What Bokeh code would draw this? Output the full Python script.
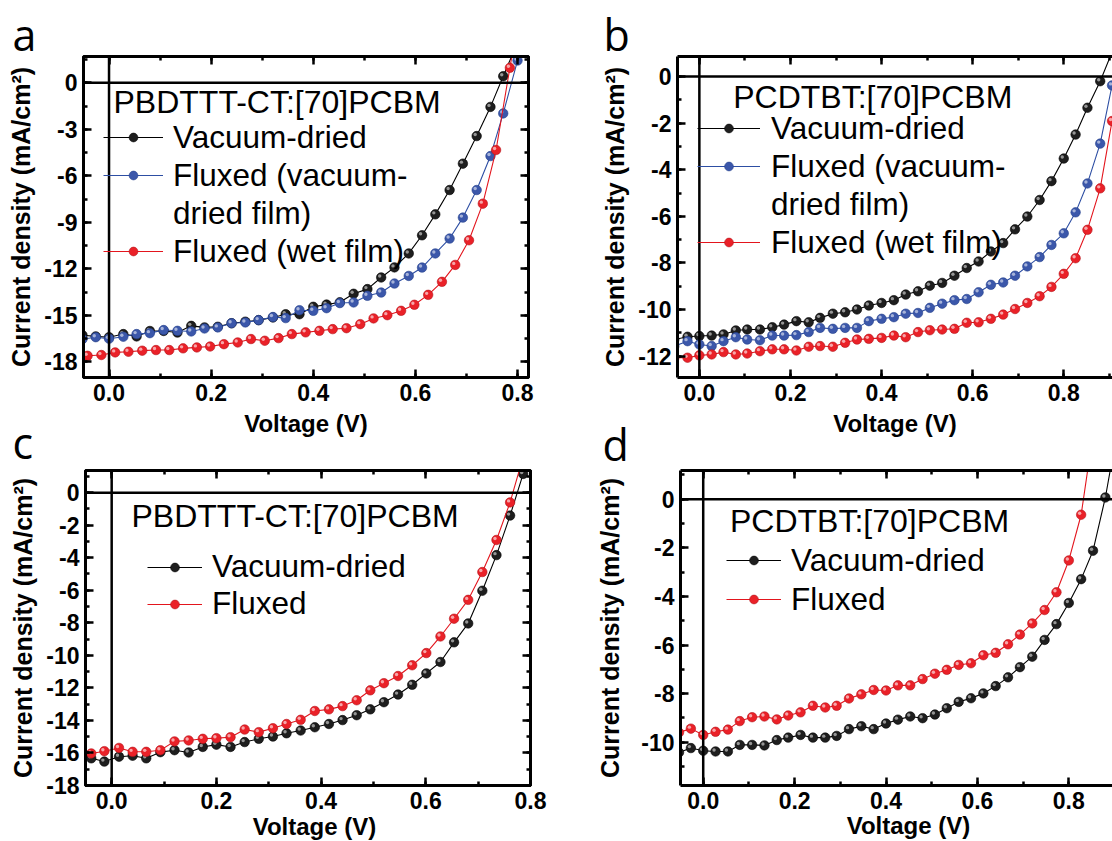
from bokeh.plotting import figure
from bokeh.models import (Range1d, SingleIntervalTicker, PrintfTickFormatter,
                          LinearAxis, Span, Label, Legend, LegendItem, ColumnDataSource)
from bokeh.layouts import row, column
from bokeh.embed import file_html
from bokeh.resources import INLINE

# ---------------- data ----------------
# panel a : PBDTTT-CT:[70]PCBM
A_V = [-0.052, -0.026, 0.000, 0.028, 0.054, 0.080, 0.107, 0.134, 0.161, 0.187, 0.213,
       0.240, 0.267, 0.293, 0.321, 0.346, 0.373, 0.400, 0.426, 0.452, 0.479, 0.506,
       0.533, 0.559, 0.587, 0.613, 0.639, 0.667, 0.693, 0.720, 0.747, 0.772, 0.800, 0.827]
A_VAC = [-16.27, -16.35, -16.40, -16.20, -16.35, -16.00, -16.00, -16.10, -15.67, -15.77, -15.73,
         -15.50, -15.40, -15.30, -15.13, -14.92, -14.92, -14.44, -14.30, -14.15, -13.60, -13.30,
         -12.55, -11.90, -11.00, -9.83, -8.48, -6.91, -5.21, -3.43, -1.55, 0.43, 2.60, 5.00]
A_FVD = [-16.52, -16.40, -16.50, -16.37, -16.20, -16.14, -15.94, -15.99, -16.03, -15.84, -15.77,
         -15.50, -15.45, -15.30, -15.10, -15.17, -14.66, -14.70, -14.53, -14.20, -14.16, -13.73,
         -13.52, -12.94, -12.45, -11.91, -11.00, -10.04, -8.69, -6.91, -4.72, -1.97, 1.44, 5.00]
A_VW = [-0.042, -0.015, 0.012, 0.038, 0.065, 0.092, 0.118, 0.145, 0.172, 0.198, 0.225,
        0.252, 0.278, 0.305, 0.332, 0.358, 0.385, 0.412, 0.438, 0.465, 0.492, 0.518,
        0.545, 0.572, 0.598, 0.625, 0.652, 0.678, 0.705, 0.732, 0.758, 0.785, 0.812]
A_FWF = [-17.60, -17.55, -17.38, -17.34, -17.27, -17.23, -17.23, -17.12, -17.06, -17.00, -16.85,
         -16.74, -16.52, -16.63, -16.46, -16.20, -16.09, -15.99, -15.88, -15.82, -15.56, -15.19,
         -14.98, -14.70, -14.31, -13.67, -12.83, -11.74, -10.15, -7.79, -4.33, 0.97, 6.00]

# panel b : PCDTBT:[70]PCBM
B_V = [-0.055, -0.026, 0.000, 0.027, 0.053, 0.080, 0.105, 0.133, 0.160, 0.186, 0.213,
       0.240, 0.265, 0.293, 0.320, 0.346, 0.372, 0.400, 0.427, 0.453, 0.480, 0.506,
       0.533, 0.560, 0.587, 0.613, 0.640, 0.667, 0.693, 0.720, 0.747, 0.773, 0.800,
       0.826, 0.852, 0.880, 0.906, 0.933]
B_VAC = [-11.29, -11.17, -11.14, -11.12, -11.07, -10.90, -10.86, -10.86, -10.76, -10.65, -10.50,
         -10.55, -10.36, -10.18, -10.12, -10.00, -9.83, -9.72, -9.60, -9.36, -9.22, -8.98,
         -8.86, -8.55, -8.22, -7.94, -7.51, -7.15, -6.56, -6.01, -5.30, -4.49, -3.52,
         -2.49, -1.34, -0.20, 1.05, 2.50]
B_FVD = [-11.57, -11.36, -11.50, -11.57, -11.36, -11.19, -11.29, -11.32, -11.12, -11.12, -11.10,
         -10.97, -10.79, -10.83, -10.79, -10.79, -10.50, -10.40, -10.33, -10.18, -10.15, -9.93,
         -9.75, -9.60, -9.55, -9.26, -8.94, -8.84, -8.55, -8.15, -7.75, -7.23, -6.73,
         -5.83, -4.59, -2.88, -0.38, 3.50]
B_FWF = [-12.07, -12.07, -11.97, -11.93, -11.83, -11.93, -11.89, -11.79, -11.71, -11.71, -11.76,
         -11.60, -11.57, -11.60, -11.43, -11.29, -11.26, -11.22, -11.12, -11.19, -10.97, -10.89,
         -10.86, -10.83, -10.57, -10.55, -10.40, -10.22, -9.98, -9.72, -9.43, -9.03, -8.47,
         -7.80, -6.58, -4.80, -1.91, 2.50]

# panel c : PBDTTT-CT:[70]PCBM
C_V = [-0.039, -0.014, 0.014, 0.040, 0.066, 0.093, 0.120, 0.147, 0.174, 0.200, 0.227,
       0.254, 0.281, 0.308, 0.334, 0.361, 0.388, 0.415, 0.441, 0.468, 0.494, 0.520,
       0.547, 0.574, 0.601, 0.628, 0.654, 0.681, 0.708, 0.735, 0.761, 0.786, 0.812]
C_VAC = [-16.33, -16.53, -16.23, -16.17, -16.33, -15.95, -15.83, -15.97, -15.63, -15.49, -15.63,
         -15.33, -15.13, -14.99, -14.79, -14.62, -14.42, -14.22, -13.98, -13.68, -13.32, -12.88,
         -12.41, -11.81, -11.11, -10.41, -9.20, -8.04, -6.03, -3.84, -1.41, 1.15, 3.70]
C_FLX = [-16.03, -15.89, -15.69, -15.93, -15.93, -15.83, -15.29, -15.23, -15.13, -15.09, -15.03,
         -14.56, -14.72, -14.48, -14.22, -13.96, -13.42, -13.32, -13.12, -12.76, -12.15, -11.71,
         -11.27, -10.61, -9.86, -8.84, -7.75, -6.59, -4.88, -2.91, -0.60, 2.20, 5.00]

# panel d : PCDTBT:[70]PCBM
D_V = [-0.053, -0.027, 0.000, 0.027, 0.054, 0.080, 0.107, 0.134, 0.161, 0.186, 0.213,
       0.240, 0.267, 0.292, 0.319, 0.346, 0.373, 0.400, 0.426, 0.453, 0.480, 0.507,
       0.533, 0.559, 0.586, 0.613, 0.640, 0.667, 0.693, 0.720, 0.747, 0.773, 0.800,
       0.827, 0.853, 0.880, 0.906]
D_VAC = [-10.42, -10.24, -10.35, -10.38, -10.38, -10.11, -10.11, -10.13, -9.91, -9.81, -9.70,
         -9.81, -9.81, -9.74, -9.46, -9.34, -9.46, -9.23, -9.07, -8.94, -9.01, -8.86,
         -8.60, -8.34, -8.19, -7.99, -7.69, -7.33, -6.91, -6.48, -5.79, -5.14, -4.27,
         -3.29, -2.12, 0.07, 2.80]
D_VF = [-0.053, -0.027, 0.000, 0.027, 0.054, 0.080, 0.107, 0.134, 0.161, 0.186, 0.213,
        0.240, 0.267, 0.292, 0.319, 0.346, 0.373, 0.400, 0.426, 0.453, 0.480, 0.507,
        0.533, 0.559, 0.586, 0.613, 0.640, 0.667, 0.693, 0.720, 0.747, 0.773, 0.800,
        0.827, 0.853]
D_FLX = [-9.60, -9.44, -9.70, -9.57, -9.48, -9.13, -8.97, -8.94, -9.06, -8.90, -8.77,
         -8.50, -8.57, -8.50, -8.20, -8.03, -7.85, -7.87, -7.66, -7.66, -7.40, -7.18,
         -7.02, -6.82, -6.75, -6.42, -6.32, -5.97, -5.57, -5.11, -4.56, -3.83, -2.52,
         -0.64, 2.70]

PANEL_LETTERS = ["a", "b", "c", "d"]
BLEND_1 = "PBDTTT-CT:[70]PCBM"
BLEND_2 = "PCDTBT:[70]PCBM"
X_TITLE = "Voltage (V)"
Y_TITLE = "Current density (mA/cm²)"

# ---------------- styling ----------------
FONT = "Liberation Sans"
LETTER_FONT = "Open Sans"
STYLE = {
    "k": dict(fill="#1e1e1e", edge="#000000", line="#000000", hi="#b4b4b4", hi_alpha=0.8),
    "b": dict(fill="#3b57aa", edge="#243f8c", line="#2d4ea3", hi="#ffffff", hi_alpha=0.55),
    "r": dict(fill="#ea2128", edge="#b3121a", line="#e3151d", hi="#ffffff", hi_alpha=0.6),
}
# page-pixel anchors of the texts that sit outside the plot frames
LETTER_ANCHORS = [(12, 34), (603, 34), (12, 442), (602, 444)]
XTITLE_ANCHORS = [(314, 826), (908, 825)]


def style_axis(ax, ticker, fmt=None, labels=True, standoff=6):
    ax.ticker = ticker
    ax.axis_line_width = 3
    ax.axis_line_color = "black"
    ax.major_tick_in = 8
    ax.major_tick_out = 0
    ax.minor_tick_in = 4
    ax.minor_tick_out = 0
    ax.major_tick_line_width = 2.5
    ax.minor_tick_line_width = 2.5
    ax.major_tick_line_color = "black"
    ax.minor_tick_line_color = "black"
    if labels:
        ax.formatter = fmt
        ax.major_label_text_font = FONT
        ax.major_label_text_font_size = "23px"
        ax.major_label_text_font_style = "bold"
        ax.major_label_text_color = "black"
        ax.major_label_standoff = standoff
    else:
        ax.major_label_text_font_size = "1px"
        ax.major_label_text_color = None
        ax.major_label_standoff = 0


def make_panel(cfg):
    W, H = cfg["W"], cfg["H"]
    ml, mr, mt, mb = cfg["mb"]
    x0, x1 = cfg["xr"]
    y0, y1 = cfg["yr"]
    p = figure(width=W, height=H, x_range=Range1d(x0, x1), y_range=Range1d(y0, y1),
               output_backend="svg", toolbar_location=None, title=None,
               min_border_left=ml, min_border_right=mr, min_border_top=mt, min_border_bottom=mb)
    p.xgrid.visible = False
    p.ygrid.visible = False
    p.background_fill_color = "white"
    p.border_fill_color = "white"
    if cfg["box"]:
        p.outline_line_color = "black"
        p.outline_line_width = 3
    else:
        p.outline_line_color = None

    xt = SingleIntervalTicker(interval=0.2, num_minor_ticks=2)
    yt = SingleIntervalTicker(interval=cfg["yint"], num_minor_ticks=2)
    xax = p.xaxis[0]
    yax = p.yaxis[0]
    style_axis(xax, xt, PrintfTickFormatter(format="%.1f"), standoff=6)
    style_axis(yax, yt, PrintfTickFormatter(format="%d"), standoff=6)
    yax.axis_label = Y_TITLE
    yax.axis_label_text_font = FONT
    yax.axis_label_text_font_size = "25px"
    yax.axis_label_text_font_style = "bold"
    yax.axis_label_text_color = "black"
    yax.axis_label_standoff = cfg["ylab_standoff"]
    if cfg["xlabel_axis"]:
        xax.axis_label = X_TITLE
        xax.axis_label_text_font = FONT
        xax.axis_label_text_font_size = "24px"
        xax.axis_label_text_font_style = "bold"
        xax.axis_label_text_color = "black"
        xax.axis_label_standoff = 6

    top = LinearAxis()
    style_axis(top, xt, labels=False)
    p.add_layout(top, "above")
    if cfg["box"]:
        right = LinearAxis()
        style_axis(right, yt, labels=False)
        p.add_layout(right, "right")

    p.add_layout(Span(location=0, dimension="width", line_color="black", line_width=2.5))
    p.add_layout(Span(location=0, dimension="height", line_color="black", line_width=2.5))

    fw = W - ml - mr
    fh = H - mt - mb
    kx = fw / (x1 - x0)
    ky = fh / (y1 - y0)
    dx, dy = -1.5 / kx, 1.5 / ky

    items = []
    for key, xs, ys, label in cfg["series"]:
        st = STYLE[key]
        src = ColumnDataSource(dict(x=xs, y=ys,
                                    hx=[v + dx for v in xs], hy=[v + dy for v in ys]))
        lr = p.line("x", "y", source=src, line_color=st["line"], line_width=1.1)
        sr = p.scatter("x", "y", source=src, size=9.5, fill_color=st["fill"],
                       line_color=st["edge"], line_width=0.6)
        p.scatter("hx", "hy", source=src, size=3.4, fill_color=st["hi"],
                  fill_alpha=st["hi_alpha"], line_color=None)
        lines = label.split("\n")
        items.append(LegendItem(label=lines[0], renderers=[lr, sr]))
        for extra in lines[1:]:
            dummy = p.scatter(x=[], y=[], size=1, fill_alpha=0, line_alpha=0)
            items.append(LegendItem(label=extra, renderers=[dummy]))

    lx, ly_top, gw, ls, lh = cfg["legend"]
    n = len(items)
    ly = fh - ly_top - n * lh
    leg = Legend(items=items, location=(lx, ly), orientation="vertical",
                 glyph_width=gw, glyph_height=22, label_height=lh, label_standoff=ls,
                 spacing=0, padding=0, margin=0, border_line_color=None,
                 background_fill_alpha=0, label_text_font=FONT,
                 label_text_font_size="31.5px", label_text_color="black")
    p.add_layout(leg)

    tx, ty = cfg["title_off"]
    p.add_layout(Label(x=x0, y=y1, x_offset=tx, y_offset=-ty, text=cfg["blend"],
                       text_font=FONT, text_font_size="32px", text_align="left",
                       text_baseline="middle", text_color="black"))
    return p


cfg_a = dict(W=556, H=442, mb=(83, 28, 56, 65), xr=(-0.050, 0.8215), yr=(-19.0, 1.70),
             yint=3, box=True, xlabel_axis=True, ylab_standoff=6,
             series=[("k", A_V, A_VAC, "Vacuum-dried"),
                     ("b", A_V, A_FVD, "Fluxed (vacuum-\ndried film)"),
                     ("r", A_VW, A_FWF, "Fluxed (wet film)")],
             legend=(20, 62, 60, 10, 38), title_off=(30, 45.7), blend=BLEND_1)
cfg_b = dict(W=556, H=442, mb=(121, 0, 56, 65), xr=(-0.048, 0.907), yr=(-12.92, 0.86),
             yint=2, box=False, xlabel_axis=True, ylab_standoff=6,
             series=[("k", B_V, B_VAC, "Vacuum-dried"),
                     ("b", B_V, B_FVD, "Fluxed (vacuum-\ndried film)"),
                     ("r", B_V, B_FWF, "Fluxed (wet film)")],
             legend=(20, 53, 63, 11, 38), title_off=(55.7, 40.7), blend=BLEND_2)
cfg_c = dict(W=556, H=399, mb=(85, 26, 28, 50), xr=(-0.050, 0.800), yr=(-18.0, 1.36),
             yint=2, box=True, xlabel_axis=False, ylab_standoff=6,
             series=[("k", C_V, C_VAC, "Vacuum-dried"),
                     ("r", C_V, C_FLX, "Fluxed")],
             legend=(62, 84, 55, 10, 37), title_off=(46, 45), blend=BLEND_1)
cfg_d = dict(W=556, H=399, mb=(124, 0, 21, 56), xr=(-0.0497, 0.8956), yr=(-11.78, 1.18),
             yint=2, box=False, xlabel_axis=False, ylab_standoff=14,
             series=[("k", D_V, D_VAC, "Vacuum-dried"),
                     ("r", D_VF, D_FLX, "Fluxed")],
             legend=(46, 77.5, 55, 10, 39), title_off=(49.5, 50), blend=BLEND_2)

pa = make_panel(cfg_a)
pb = make_panel(cfg_b)
pc = make_panel(cfg_c)
pd = make_panel(cfg_d)

# transparent overlay carrying the texts that lie outside the plot frames
ov = figure(width=1112, height=841, x_range=Range1d(0, 1112), y_range=Range1d(841, 0),
            output_backend="svg", toolbar_location=None, title=None,
            x_axis_type=None, y_axis_type=None,
            min_border_left=0, min_border_right=0, min_border_top=0, min_border_bottom=0)
ov.outline_line_color = None
ov.background_fill_alpha = 0
ov.border_fill_alpha = 0
ov.margin = (-841, 0, 0, 0)
for letter, (lx, ly) in zip(PANEL_LETTERS, LETTER_ANCHORS):
    ov.add_layout(Label(x=lx, y=ly, text=letter, text_font=LETTER_FONT,
                        text_font_size="43px", text_align="left",
                        text_baseline="alphabetic", text_color="black"))
for (tx, ty) in XTITLE_ANCHORS:
    ov.add_layout(Label(x=tx, y=ty, text=X_TITLE, text_font=FONT, text_font_size="24px",
                        text_font_style="bold", text_align="center",
                        text_baseline="middle", text_color="black"))

layout = column(row(pa, pb), row(pc, pd), ov)
open("out.html", "w").write(file_html(layout, INLINE))
